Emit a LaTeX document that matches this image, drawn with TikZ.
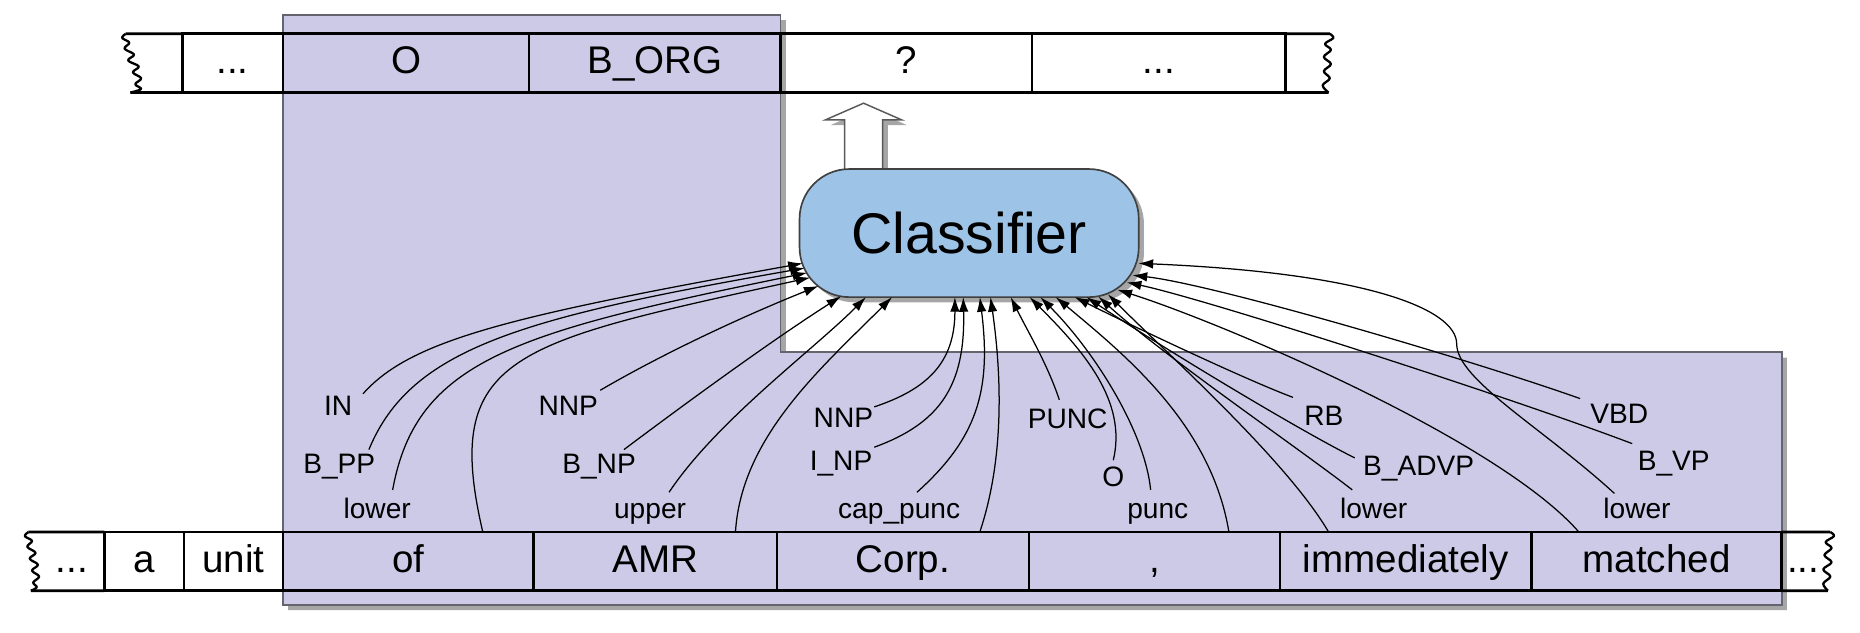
\documentclass[tikz,border=0pt]{standalone}
\usepackage{fontspec}
\setmainfont{Liberation Sans}
\usetikzlibrary{arrows.meta,shadows}
\definecolor{lav}{RGB}{204,202,230}
\definecolor{lavedge}{RGB}{100,100,110}
\definecolor{clsblue}{RGB}{157,195,230}
\begin{document}
\begin{tikzpicture}[x=0.02cm,y=-0.02cm,
  rowline/.style={line width=1.3pt, line join=round},
  wave/.style={line width=1.1pt, line join=round},
  cellbox/.style={draw, line width=1.3pt, inner sep=0pt, outer sep=0pt, minimum height=0.99cm, text height=14pt, text depth=3.8pt, font=\fontsize{18.5}{21}\selectfont},
  lab/.style={anchor=base, inner sep=0pt, font=\fontsize{13.5}{16}\selectfont},
  feat/.style={line width=0.6pt, -{Latex[length=7pt,width=4.6pt]}},
  sh/.style={drop shadow={shadow xshift=2.5pt, shadow yshift=-2.5pt, fill=black, opacity=0.35}}
]
\useasboundingbox (0,0) rectangle (1568,533);

% lavender context region
\path[fill=lav, draw=lavedge, line width=0.8pt, sh]
  (238.6,12.6) -- (658,12.6) -- (658,297) -- (1502,297) -- (1502,510) -- (238.6,510) -- cycle;

% top row
\node[cellbox, minimum width=1.70cm] (t1) at (196.1,53.25) {...};
\node[cellbox, minimum width=4.148cm] (t2) at (342.3,53.25) {O};
\node[cellbox, minimum width=4.24cm] (t3) at (552,53.25) {B\_ORG};
\node[cellbox, minimum width=4.24cm] (t4) at (764,53.25) {?};
\node[cellbox, minimum width=4.27cm] (t5) at (976.75,53.25) {...};
\draw[rowline] (t1.north west) -- (106,28.5);
\draw[rowline] (t1.south west) -- (110,78);
\draw[wave] plot[smooth, tension=0.6] coordinates {(106,28.5) (103,32) (109,36) (105,41) (113,46) (108,51) (117,56) (112,61) (119,66) (114,71) (119,75) (110,78)};
\draw[rowline] (t5.north east) -- (1121,28.5);
\draw[rowline] (t5.south east) -- (1120,78);
\draw[wave] plot[smooth, tension=0.6] coordinates {(1121,28.5) (1124,32) (1117,37) (1122,42) (1116,48) (1122,54) (1116,60) (1121,66) (1115,72) (1120,78)};

% bottom row
\node[cellbox, draw=none, minimum width=1.1cm] (b0) at (60.5,473.25) {...};
\node[cellbox, minimum width=1.34cm] (b1) at (121.5,473.25) {a};
\node[cellbox, minimum width=1.672cm] (b2) at (196.8,473.25) {unit};
\node[cellbox, minimum width=4.228cm] (b3) at (344.3,473.25) {of};
\node[cellbox, minimum width=4.1cm] (b4) at (552.5,473.25) {AMR};
\node[cellbox, minimum width=4.25cm] (b5) at (761.25,473.25) {Corp.};
\node[cellbox, minimum width=4.23cm] (b6) at (973.25,473.25) {,};
\node[cellbox, minimum width=4.24cm] (b7) at (1185,473.25) {immediately};
\node[cellbox, minimum width=4.22cm] (b8) at (1396.5,473.25) {matched};
\node[cellbox, draw=none, minimum width=0.72cm] (b9) at (1520,473.25) {...};
\draw[rowline] (b1.north west) -- (24,448.5);
\draw[rowline] (b1.south west) -- (26,498);
\draw[wave] plot[smooth, tension=0.6] coordinates {(24,448.5) (21,452) (27,456) (23,461) (30,466) (25,471) (32,476) (27,481) (33,486) (28,491) (31,495) (26,498)};
\draw[rowline] (b8.north east) -- (1543,448.5);
\draw[rowline] (b8.south east) -- (1541,498);
\draw[wave] plot[smooth, tension=0.6] coordinates {(1543,448.5) (1546,452) (1539,457) (1544,462) (1538,468) (1544,474) (1537,480) (1543,486) (1537,492) (1541,498)};

% output block arrow
\path[fill=white, draw=black!65, line width=0.7pt, sh]
  (712,150) -- (712,101) -- (696,101) -- (728,87) -- (760,101) -- (744,101) -- (744,150) -- cycle;

% classifier
\node[draw=black!75, line width=0.8pt, fill=clsblue, rounded corners=0.84cm,
      minimum width=5.72cm, minimum height=2.16cm, inner sep=0pt, sh,
      font=\fontsize{27.5}{31}\selectfont] (cls) at (817,196.5) {Classifier};

% feature labels
\node[lab] (fIN) at (285,350) {IN};
\node[lab] (fBPP) at (286,399) {B\_PP};
\node[lab] (fLowA) at (318,437) {lower};
\node[lab] (fNNPa) at (479,350) {NNP};
\node[lab] (fBNP) at (505,399) {B\_NP};
\node[lab] (fUpper) at (548,437) {upper};
\node[lab] (fNNPc) at (711,360) {NNP};
\node[lab] (fINP) at (709,396.5) {I\_NP};
\node[lab] (fCap) at (758,437) {cap\_punc};
\node[lab] (fPUNC) at (900,361) {PUNC};
\node[lab] (fO) at (938.5,410.5) {O};
\node[lab] (fPunc) at (976,437) {punc};
\node[lab] (fRB) at (1116,358.5) {RB};
\node[lab] (fBADVP) at (1196,400.6) {B\_ADVP};
\node[lab] (fLowI) at (1158,437) {lower};
\node[lab] (fVBD) at (1365,357) {VBD};
\node[lab] (fBVP) at (1411,396.5) {B\_VP};
\node[lab] (fLowM) at (1380,437) {lower};

% connectors: "of"
\draw[feat] ([shift={(21,-18)}]fIN.base) .. controls +(40,-45) and +(-250,45) .. ([shift={(-140.3,25.5)}]cls.center);
\draw[feat] ([shift={(25,-20)}]fBPP.base) .. controls +(35,-85) and +(-240,42) .. ([shift={(-138.7,29.5)}]cls.center);
\draw[feat] ([shift={(13,-24)}]fLowA.base) .. controls +(20,-110) and +(-245,50) .. ([shift={(-136.6,33.5)}]cls.center);
\draw[feat] ([shift={(62.7,0)}]b3.north) .. controls +(-35,-150) and +(-250,55) .. ([shift={(-133.9,37.5)}]cls.center);
% "AMR"
\draw[feat] ([shift={(27,-21)}]fNNPa.base) .. controls +(60,-35) and +(-55,22) .. ([shift={(-127,44.6)}]cls.center);
\draw[feat] ([shift={(21,-20)}]fBNP.base) .. controls +(60,-45) and +(-55,35) .. ([shift={(-108,53.3)}]cls.center);
\draw[feat] ([shift={(16,-22)}]fUpper.base) .. controls +(40,-60) and +(-45,45) .. ([shift={(-87,54)}]cls.center);
\draw[feat] ([shift={(67.5,0)}]b4.north) .. controls +(5,-80) and +(-60,60) .. ([shift={(-65,54)}]cls.center);
% "Corp."
\draw[feat] ([shift={(26,-17)}]fNNPc.base) .. controls +(45,-15) and +(0,55) .. ([shift={(-12,54)}]cls.center);
\draw[feat] ([shift={(28,-19.5)}]fINP.base) .. controls +(55,-20) and +(2,75) .. ([shift={(-5,54)}]cls.center);
\draw[feat] ([shift={(15,-22)}]fCap.base) .. controls +(50,-45) and +(10,80) .. ([shift={(9,54)}]cls.center);
\draw[feat] ([shift={(64.75,0)}]b5.north) .. controls +(20,-60) and +(10,70) .. ([shift={(18,54)}]cls.center);
% ","
\draw[feat] ([shift={(-7,-24)}]fPUNC.base) .. controls +(-10,-30) and +(15,30) .. ([shift={(35,54)}]cls.center);
\draw[feat] ([shift={(0,-22.5)}]fO.base) .. controls +(12,-50) and +(45,45) .. ([shift={(51,54)}]cls.center);
\draw[feat] ([shift={(-6,-24)}]fPunc.base) .. controls +(-5,-50) and +(45,45) .. ([shift={(60,54)}]cls.center);
\draw[feat] ([shift={(62.75,0)}]b6.north) .. controls +(-15,-90) and +(60,50) .. ([shift={(73,54)}]cls.center);
% "immediately"
\draw[feat] ([shift={(-26,-23.5)}]fRB.base) .. controls +(-40,-15) and +(50,25) .. ([shift={(89,54)}]cls.center);
\draw[feat] ([shift={(-54,-14.6)}]fBADVP.base) .. controls +(-50,-25) and +(60,40) .. ([shift={(99,54)}]cls.center);
\draw[feat] ([shift={(-18,-24)}]fLowI.base) .. controls +(-45,-35) and +(55,50) .. ([shift={(109,53.6)}]cls.center);
\draw[feat] ([shift={(-65,0)}]b7.north) .. controls +(-35,-60) and +(50,50) .. ([shift={(117,51.6)}]cls.center);
% "matched"
\draw[feat] ([shift={(-65.5,0)}]b8.north) .. controls +(-70,-80) and +(80,25) .. ([shift={(125,47.8)}]cls.center);
\draw[feat] ([shift={(-35,-22.5)}]fBVP.base) .. controls +(-100,-38) and +(70,15) .. ([shift={(132.9,41.5)}]cls.center);
\draw[feat] ([shift={(-33,-21)}]fVBD.base) .. controls +(-90,-32) and +(70,8) .. ([shift={(137.8,35.5)}]cls.center);
\draw[feat] ([shift={(-19,-21)}]fLowM.base) .. controls +(-60,-55) and +(0,30) .. (1228,290) .. controls +(0,-30) and +(190,8) .. ([shift={(142.8,25.5)}]cls.center);
\end{tikzpicture}
\end{document}
